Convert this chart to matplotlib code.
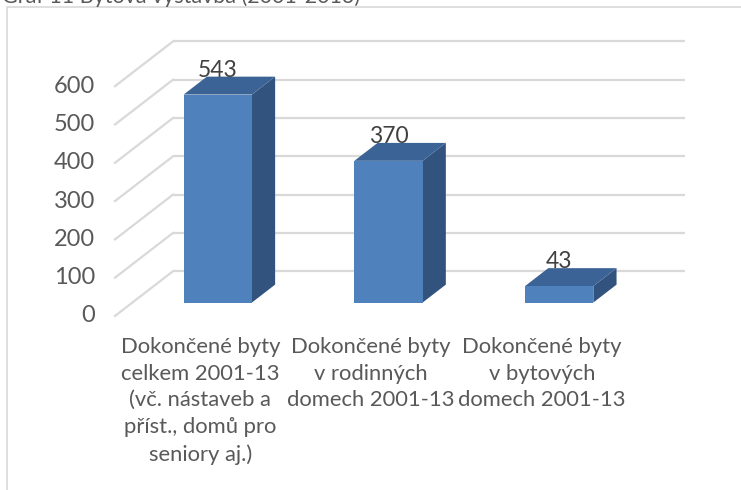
import numpy as np
import matplotlib.pyplot as plt
from matplotlib.patches import Polygon, Rectangle

# data
categories = [
    "Dokončené byty\ncelkem 2001-13\n(vč. nástaveb a\npříst., domů pro\nseniory aj.)",
    "Dokončené byty\nv rodinných\ndomech 2001-13",
    "Dokončené byty\nv bytových\ndomech 2001-13",
]
values = [543, 370, 43]
yticks = [0, 100, 200, 300, 400, 500, 600]
title = "Graf 11 Bytová výstavba (2001-2013)"

plt.rcParams['font.family'] = ['Lato', 'DejaVu Sans']

# oblique projection: depth d in [0, 1] shifts right and up
DX = 0.34
DY = 117.0


def proj(x, v, d):
    return (x + d * DX, v + d * DY)


fig = plt.figure(figsize=(7.41, 4.90), dpi=100)
ax = fig.add_axes([100 / 741, 160 / 490, 620 / 741, 300 / 490])
ax.set_xlim(-0.0879, 3.544)
ax.set_ylim(-36.6, 746.7)
ax.axis("off")

n = len(values)
grid_c = "#D9D9D9"

# walls: back wall gridlines and side wall diagonals
for v in yticks:
    xs, ys = zip(proj(0, v, 1), proj(n, v, 1))
    ax.plot(xs, ys, color=grid_c, lw=1.6, zorder=1, solid_capstyle="butt")
    xs, ys = zip(proj(0, v, 0), proj(0, v, 1))
    ax.plot(xs, ys, color=grid_c, lw=1.6, zorder=1)
    ax.annotate(str(v), xy=(0, v), xytext=(-14.5, 0), textcoords="offset points",
                ha="right", va="center", fontsize=17, color="#595959")

# 3d-looking columns
front_c = "#4F81BD"
top_c = "#3B6395"
side_c = "#32537E"
w = 0.4
d0, d1 = 0.3, 0.7
for i, v in enumerate(values):
    x0 = i + 0.5 - w / 2
    x1 = i + 0.5 + w / 2
    front = [proj(x0, 0, d0), proj(x1, 0, d0), proj(x1, v, d0), proj(x0, v, d0)]
    side = [proj(x1, 0, d0), proj(x1, 0, d1), proj(x1, v, d1), proj(x1, v, d0)]
    top = [proj(x0, v, d0), proj(x1, v, d0), proj(x1, v, d1), proj(x0, v, d1)]
    ax.add_patch(Polygon(side, closed=True, fc=side_c, ec="none", zorder=3))
    ax.add_patch(Polygon(top, closed=True, fc=top_c, ec="none", zorder=3))
    ax.add_patch(Polygon(front, closed=True, fc=front_c, ec="none", zorder=4))
    lx = proj(i + 0.5, v, d0)[0]
    ly = proj(i + 0.5, v, d1)[1]
    ax.annotate(str(v), xy=(lx, ly), xytext=(0, -3), textcoords="offset points",
                ha="center", va="bottom", fontsize=16.5, color="#404040", zorder=5)
    ax.annotate(categories[i], xy=(i + 0.5, 0), xytext=(0, -15), textcoords="offset points",
                ha="center", va="top", fontsize=15.8, color="#595959",
                linespacing=1.42, multialignment="center")

# chart area border (cropped) and cut-off title
fig.patches.append(Rectangle((7 / 741, -0.1), 1.2, 1 - 7 / 490 + 0.1, transform=fig.transFigure,
                             fill=False, ec="#D9D9D9", lw=1.2))
fig.text(2 / 741, 1 - 3 / 490, title, ha="left", va="baseline", fontsize=15.5, color="#595959")

fig.savefig("out.png", dpi=100)
